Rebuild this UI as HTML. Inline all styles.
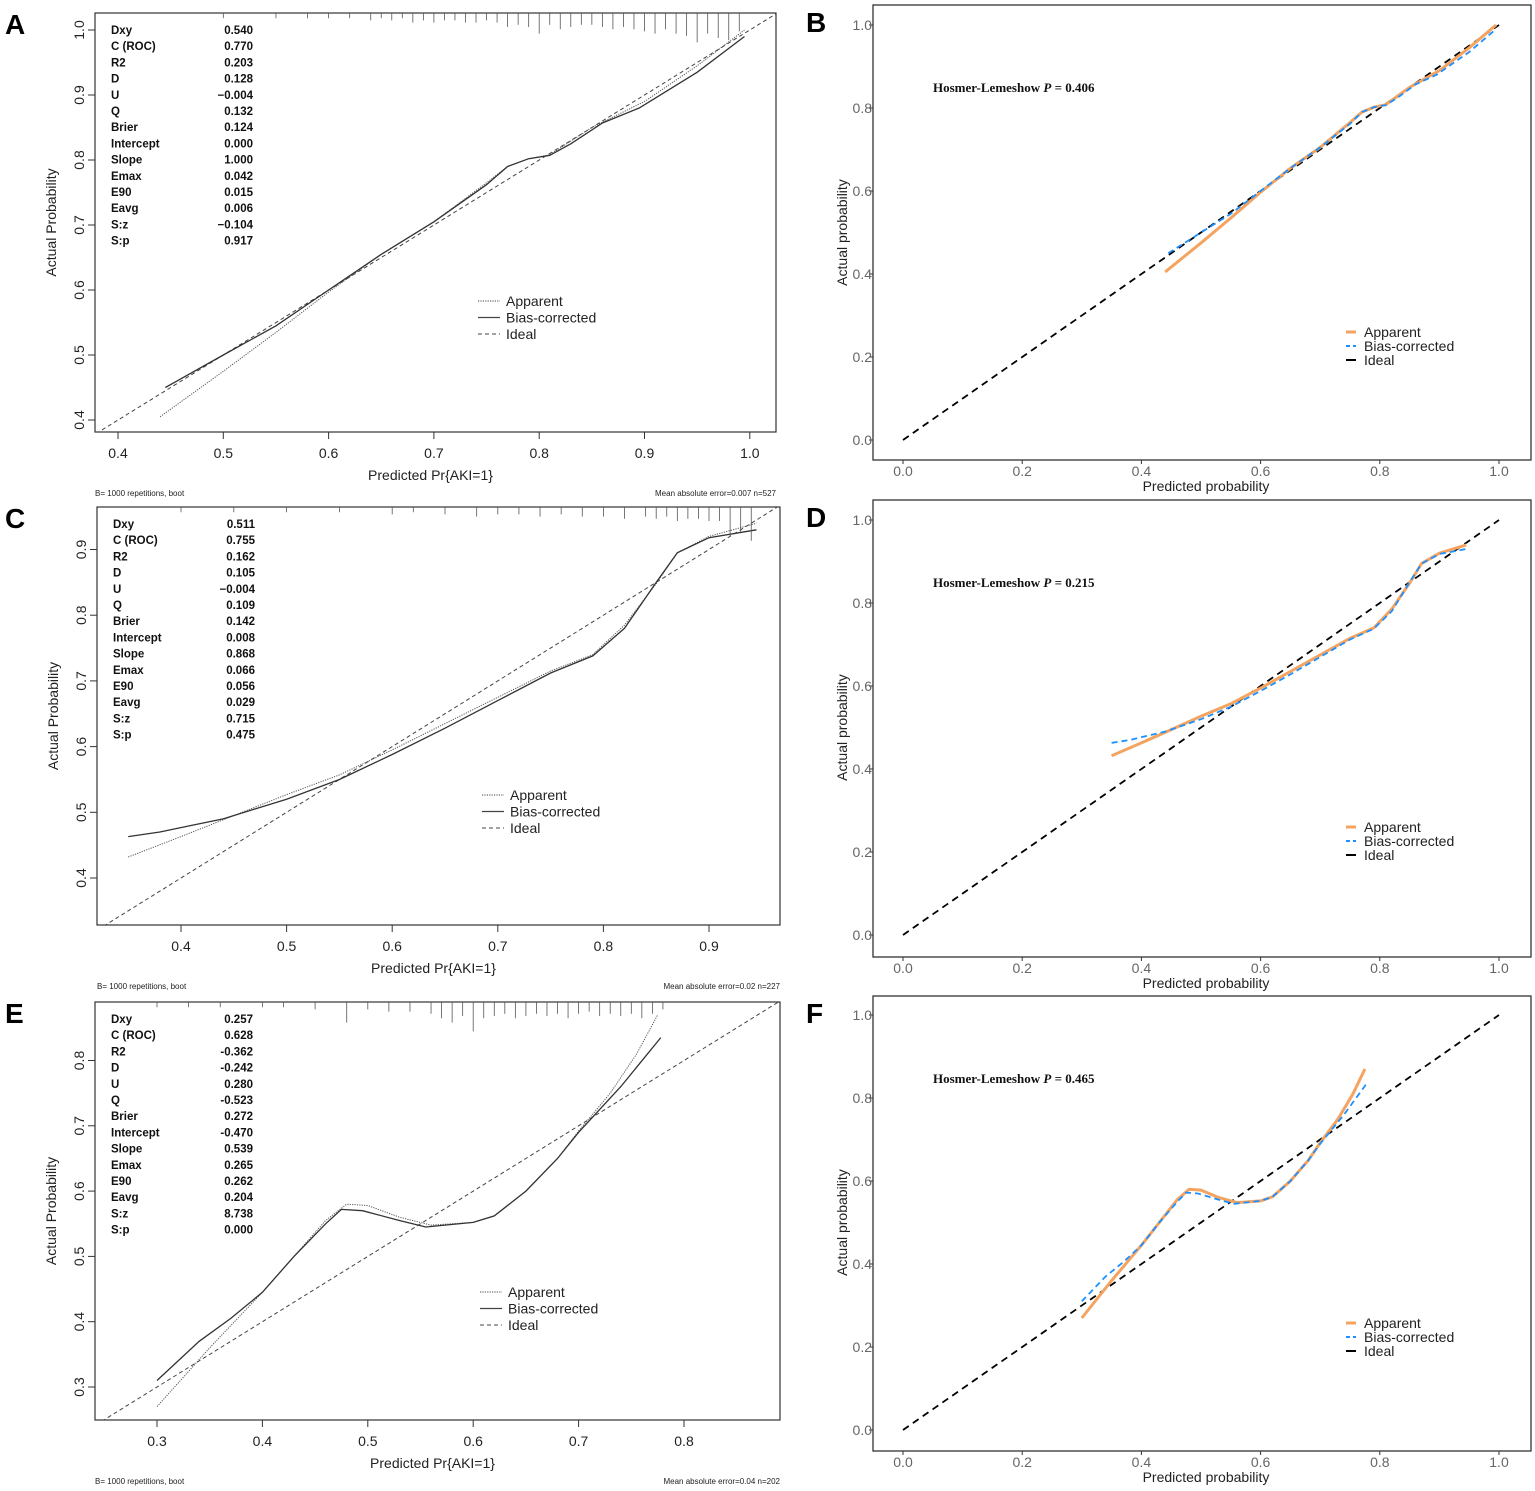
<!DOCTYPE html>
<html><head><meta charset="utf-8"><style>
html,body{margin:0;padding:0;background:#fff;}
svg{display:block;font-family:"Liberation Sans",sans-serif;}
.st{font-family:"Liberation Sans Narrow","Liberation Sans",sans-serif;font-size:11.5px;font-weight:bold;fill:#111;}
</style></head><body>
<svg id="fig" width="1535" height="1491" viewBox="0 0 1535 1491"></svg>
<script>
// ---------- DATA ----------
const statNames=["Dxy","C (ROC)","R2","D","U","Q","Brier","Intercept","Slope","Emax","E90","Eavg","S:z","S:p"];
const statsA=["0.540","0.770","0.203","0.128","\u22120.004","0.132","0.124","0.000","1.000","0.042","0.015","0.006","\u22120.104","0.917"];
const statsC=["0.511","0.755","0.162","0.105","\u22120.004","0.109","0.142","0.008","0.868","0.066","0.056","0.029","0.715","0.475"];
const statsE=["0.257","0.628","-0.362","-0.242","0.280","-0.523","0.272","-0.470","0.539","0.265","0.262","0.204","8.738","0.000"];

const appAx=[0.44,0.5,0.55,0.6,0.65,0.7,0.75,0.77,0.79,0.81,0.85,0.9,0.95,0.995];
const appAy=[0.405,0.475,0.535,0.597,0.655,0.705,0.765,0.79,0.802,0.808,0.85,0.89,0.945,1.0];
const biasAx=[0.445,0.5,0.55,0.6,0.65,0.7,0.75,0.77,0.79,0.81,0.83,0.86,0.895,0.95,0.995];
const biasAy=[0.45,0.5,0.545,0.6,0.655,0.705,0.762,0.79,0.802,0.807,0.825,0.857,0.88,0.935,0.99];

const appCx=[0.35,0.4,0.45,0.5,0.55,0.6,0.65,0.7,0.75,0.79,0.82,0.85,0.87,0.9,0.945];
const appCy=[0.432,0.463,0.495,0.527,0.557,0.595,0.635,0.675,0.715,0.74,0.785,0.848,0.895,0.92,0.94];
const biasCx=[0.35,0.38,0.41,0.44,0.47,0.5,0.55,0.6,0.65,0.7,0.75,0.79,0.82,0.85,0.87,0.9,0.945];
const biasCy=[0.463,0.47,0.48,0.49,0.505,0.52,0.55,0.588,0.628,0.67,0.712,0.738,0.78,0.85,0.895,0.918,0.93];

const appEx=[0.3,0.35,0.4,0.43,0.46,0.48,0.5,0.53,0.56,0.6,0.62,0.65,0.68,0.7,0.73,0.755,0.775];
const appEy=[0.27,0.36,0.445,0.5,0.555,0.58,0.578,0.56,0.548,0.552,0.562,0.6,0.65,0.692,0.75,0.81,0.87];
const biasEx=[0.3,0.34,0.37,0.4,0.43,0.46,0.475,0.495,0.53,0.555,0.6,0.62,0.65,0.68,0.7,0.74,0.778];
const biasEy=[0.31,0.37,0.405,0.445,0.5,0.55,0.572,0.57,0.555,0.545,0.552,0.562,0.6,0.65,0.69,0.76,0.835];

const rugAx=[0.5,0.55,0.58,0.6,0.62,0.64,0.65,0.66,0.67,0.68,0.69,0.7,0.71,0.72,0.73,0.74,0.75,0.76,0.77,0.78,0.79,0.8,0.81,0.82,0.83,0.84,0.85,0.86,0.87,0.88,0.89,0.9,0.91,0.92,0.93,0.94,0.95,0.96,0.97,0.98,0.99];
const rugAn=[1,1,1,1,1,2,1,2,1,3,2,3,2,2,3,3,2,3,5,4,5,8,4,6,5,4,4,5,6,5,6,7,8,6,8,9,12,8,10,11,7];
const rugCx=[0.4,0.45,0.5,0.55,0.6,0.62,0.65,0.68,0.7,0.72,0.74,0.76,0.78,0.8,0.82,0.84,0.85,0.86,0.87,0.88,0.89,0.9,0.91,0.92,0.93,0.94];
const rugCn=[1,1,1,1,2,1,2,3,2,2,3,2,3,3,4,3,4,3,5,4,4,5,5,12,10,14];
const rugEx=[0.3,0.33,0.36,0.4,0.42,0.45,0.48,0.5,0.52,0.54,0.56,0.57,0.58,0.59,0.6,0.61,0.62,0.63,0.64,0.65,0.66,0.67,0.68,0.69,0.7,0.71,0.72,0.73,0.74,0.75,0.76,0.77,0.78];
const rugEn=[1,1,1,1,1,2,8,2,3,3,4,6,8,5,12,6,5,4,6,5,4,5,4,6,4,3,5,4,5,4,6,4,2];

const ticksA=[0.4,0.5,0.6,0.7,0.8,0.9,1.0];
const yticksA=[0.4,0.5,0.6,0.7,0.8,0.9,1.0];
const ticksC=[0.4,0.5,0.6,0.7,0.8,0.9];
const yticksC=[0.4,0.5,0.6,0.7,0.8,0.9];
const ticksE=[0.3,0.4,0.5,0.6,0.7,0.8];
const yticksE=[0.3,0.4,0.5,0.6,0.7,0.8];
const ticksG=[0.0,0.2,0.4,0.6,0.8,1.0];
const hlP=["0.406","0.215","0.465"];
const maeText=["Mean absolute error=0.007 n=527","Mean absolute error=0.02 n=227","Mean absolute error=0.04 n=202"];

// ---------- helpers ----------
const NS="http://www.w3.org/2000/svg";
const svg=document.getElementById('fig');
function mk(tag,attrs,parent){const e=document.createElementNS(NS,tag);for(const k in attrs)e.setAttribute(k,attrs[k]);(parent||svg).appendChild(e);return e;}
function txt(s,attrs,parent){const e=mk('text',attrs,parent);e.textContent=s;return e;}
function pathD(xs,ys,sx,sy){return xs.map((v,i)=>(i?'L':'M')+sx(v).toFixed(1)+','+sy(ys[i]).toFixed(1)).join(' ');}

// ---------- rms-style panel ----------
function rmsPanel(o){
  const g=mk('g',{});
  
  
  const sx=v=>o.x0+(v-o.v0)*o.kx, sy=v=>o.y0-(v-o.w0)*o.ky;
  const L=o.box[0],T=o.box[1],R=o.box[2],B=o.box[3];
  const lab=txt(o.letter,{x:5,y:T+21,'font-size':28,'font-weight':'bold'},g);
  
  const box=mk('rect',{x:L,y:T,width:R-L,height:B-T,fill:'none',stroke:'#333','stroke-width':1.2},g);
  
  const cp='clip'+o.letter;
  const cl=mk('clipPath',{id:cp},g);mk('rect',{x:L,y:T,width:R-L,height:B-T},cl);
  const lo=Math.min((L-o.x0)/o.kx+o.v0,(o.y0-B)/o.ky+o.w0)-0.05, hi=1.2;
  const id=mk('path',{d:pathD([lo,hi],[lo,hi],sx,sy),stroke:'#444','stroke-width':1,'stroke-dasharray':'4,3',fill:'none','clip-path':`url(#${cp})`},g);
  
  const ap=mk('path',{d:pathD(o.ax,o.ay,sx,sy),stroke:'#555','stroke-width':1,'stroke-dasharray':'1.2,1.2',fill:'none'},g);
  
  const bc=mk('path',{d:pathD(o.bx,o.by,sx,sy),stroke:'#333','stroke-width':1.3,fill:'none'},g);
  
  o.rx.forEach((v,i)=>{const r=mk('line',{x1:sx(v),x2:sx(v),y1:T,y2:T+3+o.rn[i]*2.2,stroke:'#555','stroke-width':0.8},g);
    });
  o.xt.forEach(v=>{mk('line',{x1:sx(v),x2:sx(v),y1:B,y2:B+7,stroke:'#333'},g);
    const t=txt(v.toFixed(1),{x:sx(v),y:B+26,'text-anchor':'middle','font-size':14,fill:'#222'},g);
    });
  o.yt.forEach(v=>{mk('line',{x1:L,x2:L-7,y1:sy(v),y2:sy(v),stroke:'#333'},g);
    const t=txt(v.toFixed(1),{x:0,y:0,'text-anchor':'middle','font-size':14,fill:'#222',transform:`translate(${L-11},${sy(v)}) rotate(-90)`},g);
    });
  const xt=txt('Predicted Pr{AKI=1}',{x:(L+R)/2-5,y:B+48,'text-anchor':'middle','font-size':14,fill:'#222'},g);
  
  const yt=txt('Actual Probability',{x:0,y:0,'text-anchor':'middle','font-size':14,fill:'#222',transform:`translate(${L-39},${(T+B)/2}) rotate(-90)`},g);
  
  statNames.forEach((n,i)=>{const y=T+21+i*16.2;
    const a=txt(n,{x:L+16,y:y,class:'st'},g);
    const b=txt(o.st[i],{x:L+158,y:y,class:'st','text-anchor':'end'},g);});
  const lx=o.leg[0],ly=o.leg[1];
  [['Apparent','1.2,1.2',1],['Bias-corrected','',1.3],['Ideal','4,3',1]].forEach((e,i)=>{
    const y=ly+i*16.5;
    const ln=mk('line',{x1:lx,x2:lx+22,y1:y-4,y2:y-4,stroke:'#444','stroke-width':e[2]},g);
    if(e[1])ln.setAttribute('stroke-dasharray',e[1]);
    const t=txt(e[0],{x:lx+28,y:y+1,'font-size':14,fill:'#222'},g);
    });
  const f1=txt('B= 1000 repetitions, boot',{x:L,y:B+64,'font-size':8,fill:'#222'},g);
  
  const f2=txt(o.mae,{x:R,y:B+64,'font-size':8,fill:'#222','text-anchor':'end'},g);
  
}

// ---------- ggplot-style panel ----------
function ggPanel(o){
  const g=mk('g',{});
  
  
  const sx=v=>903+v*596, sy=v=>o.y0-v*415;
  const L=873,R=1531,T=o.T,B=o.B;
  const lab=txt(o.letter,{x:806,y:T+27,'font-size':28,'font-weight':'bold'},g);
  
  const box=mk('rect',{x:L,y:T,width:R-L,height:B-T,fill:'none',stroke:'#333','stroke-width':1.3},g);
  
  ticksG.forEach(v=>{mk('line',{x1:sx(v),x2:sx(v),y1:B,y2:B+4,stroke:'#333'},g);
    const t=txt(v.toFixed(1),{x:sx(v),y:B+16,'text-anchor':'middle','font-size':14,fill:'#666'},g);
    
    mk('line',{x1:L,x2:L-4,y1:sy(v),y2:sy(v),stroke:'#333'},g);
    const u=txt(v.toFixed(1),{x:L-1,y:sy(v)+5,'text-anchor':'end','font-size':14,fill:'#666'},g);
    });
  const xt=txt('Predicted probability',{x:1206,y:B+31,'text-anchor':'middle','font-size':14,fill:'#222'},g);
  
  const yt=txt('Actual probability',{x:0,y:0,'text-anchor':'middle','font-size':14,fill:'#222',transform:`translate(847,${sy(0.5)}) rotate(-90)`},g);
  
  const id=mk('path',{d:pathD([0,1],[0,1],sx,sy),stroke:'#000','stroke-width':1.8,'stroke-dasharray':'7,5',fill:'none'},g);
  
  const ap=mk('path',{d:pathD(o.ax,o.ay,sx,sy),stroke:'#f4a460','stroke-width':3,fill:'none','stroke-linejoin':'round'},g);
  
  const bc=mk('path',{d:pathD(o.bx,o.by,sx,sy),stroke:'#1e90ff','stroke-width':1.8,'stroke-dasharray':'6,4',fill:'none'},g);
  
  const hl=mk('text',{x:933,y:T+87,'font-size':13,'font-family':'Liberation Serif, serif','font-weight':'bold',fill:'#111','xml:space':'preserve'},g);
  hl.innerHTML='Hosmer-Lemeshow  <tspan font-style="italic">P</tspan>  =  '+o.p;
  
  [['Apparent','#f4a460',''],['Bias-corrected','#1e90ff','4,3'],['Ideal','#000','']].forEach((e,i)=>{
    const y=T+331+i*14;
    const ln=mk('line',{x1:1346,x2:1356,y1:y-4,y2:y-4,stroke:e[1],'stroke-width':i==0?3:2},g);
    if(e[2])ln.setAttribute('stroke-dasharray',e[2]);
    const t=txt(e[0],{x:1364,y:y+1,'font-size':14,fill:'#222'},g);
    });
}

rmsPanel({name:'panel-a',letter:'A',box:[95,13,776,432],x0:118,v0:0.4,kx:1053,y0:420,w0:0.4,ky:650,ax:appAx,ay:appAy,bx:biasAx,by:biasAy,rx:rugAx,rn:rugAn,xt:ticksA,yt:yticksA,st:statsA,leg:[478,305],mae:maeText[0]});
rmsPanel({name:'panel-c',letter:'C',box:[97,507,780,925],x0:181,v0:0.4,kx:1056,y0:878,w0:0.4,ky:657,ax:appCx,ay:appCy,bx:biasCx,by:biasCy,rx:rugCx,rn:rugCn,xt:ticksC,yt:yticksC,st:statsC,leg:[482,799],mae:maeText[1]});
rmsPanel({name:'panel-e',letter:'E',box:[95,1002,780,1420],x0:157,v0:0.3,kx:1054,y0:1387,w0:0.3,ky:653,ax:appEx,ay:appEy,bx:biasEx,by:biasEy,rx:rugEx,rn:rugEn,xt:ticksE,yt:yticksE,st:statsE,leg:[480,1296],mae:maeText[2]});
ggPanel({name:'panel-b',letter:'B',T:5,B:460,y0:440,ax:appAx,ay:appAy,bx:biasAx,by:biasAy,p:hlP[0]});
ggPanel({name:'panel-d',letter:'D',T:500,B:957,y0:935,ax:appCx,ay:appCy,bx:biasCx,by:biasCy,p:hlP[1]});
ggPanel({name:'panel-f',letter:'F',T:996,B:1451,y0:1430,ax:appEx,ay:appEy,bx:biasEx,by:biasEy,p:hlP[2]});
</script>
</body></html>
